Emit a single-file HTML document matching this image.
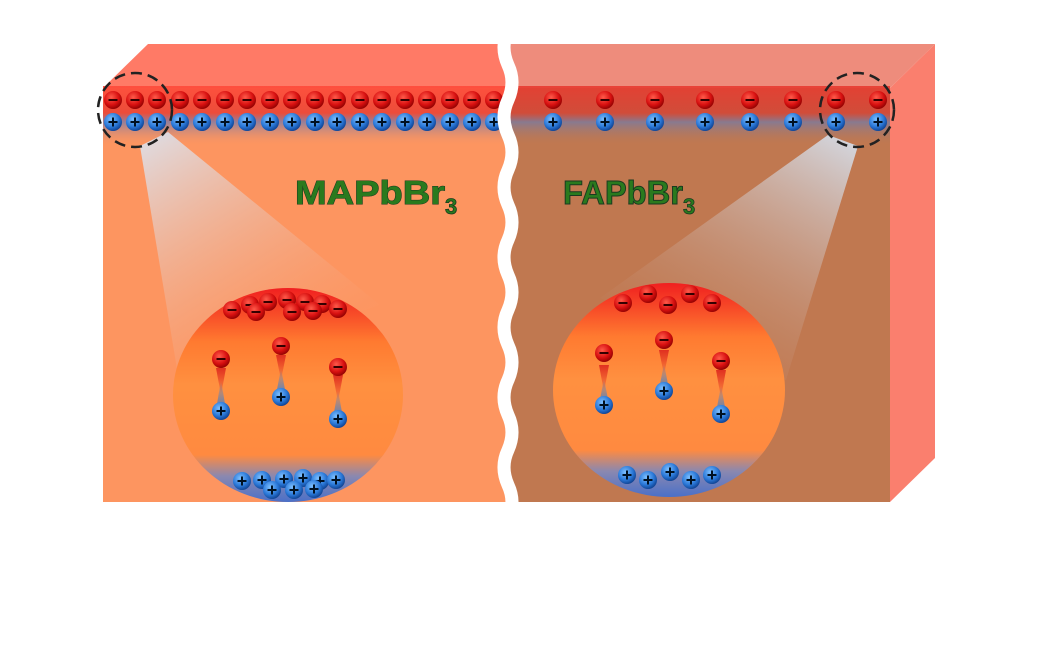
<!DOCTYPE html>
<html><head><meta charset="utf-8"><style>html,body{margin:0;padding:0;background:#fff}svg{display:block}</style></head>
<body>
<svg width="1050" height="650" viewBox="0 0 1050 650" xmlns="http://www.w3.org/2000/svg">
<defs>
<radialGradient id="neg" cx="0.4" cy="0.35" r="0.7"><stop offset="0" stop-color="#ff5a4a"/><stop offset="0.6" stop-color="#d81010"/><stop offset="1" stop-color="#8a0000"/></radialGradient>
<radialGradient id="pos" cx="0.4" cy="0.35" r="0.7"><stop offset="0" stop-color="#7ec0ff"/><stop offset="0.6" stop-color="#2a78d8"/><stop offset="1" stop-color="#0c3c8a"/></radialGradient>
<linearGradient id="bandL" x1="0" y1="0" x2="0" y2="1"><stop offset="0" stop-color="#ff4a3a" stop-opacity="0.9"/><stop offset="0.45" stop-color="#e83a30" stop-opacity="0.8"/><stop offset="0.6" stop-color="#7a7aa8" stop-opacity="0.8"/><stop offset="1" stop-color="#fd9560" stop-opacity="0"/></linearGradient>
<linearGradient id="bandR" x1="0" y1="0" x2="0" y2="1"><stop offset="0" stop-color="#e83a30" stop-opacity="0.9"/><stop offset="0.45" stop-color="#d83a30" stop-opacity="0.7"/><stop offset="0.6" stop-color="#7a7aa0" stop-opacity="0.8"/><stop offset="1" stop-color="#c07850" stop-opacity="0"/></linearGradient>
<linearGradient id="coneL" x1="0" y1="0" x2="0.6" y2="1"><stop offset="0" stop-color="#d8ecff"/><stop offset="1" stop-color="#fd9560" stop-opacity="0.2"/></linearGradient>
<linearGradient id="coneR" x1="1" y1="0" x2="0.4" y2="1"><stop offset="0" stop-color="#d8ecff"/><stop offset="1" stop-color="#c07850" stop-opacity="0.2"/></linearGradient>
<linearGradient id="circ" x1="0" y1="0" x2="0" y2="1"><stop offset="0" stop-color="#f02020"/><stop offset="0.25" stop-color="#ff7a30"/><stop offset="0.45" stop-color="#ff9040"/><stop offset="0.78" stop-color="#ff8a40"/><stop offset="0.88" stop-color="#8a88b0"/><stop offset="1" stop-color="#4a70c8"/></linearGradient>
<linearGradient id="tailN" x1="0" y1="0" x2="0" y2="1"><stop offset="0" stop-color="#e03020"/><stop offset="1" stop-color="#e03020" stop-opacity="0"/></linearGradient>
<linearGradient id="tailP" x1="0" y1="1" x2="0" y2="0"><stop offset="0" stop-color="#5080c0"/><stop offset="1" stop-color="#5080c0" stop-opacity="0"/></linearGradient>
<g id="n"><circle r="9" fill="url(#neg)"/><rect x="-4.5" y="-1" width="9" height="2" fill="#300"/></g>
<g id="p"><circle r="9" fill="url(#pos)"/><rect x="-4.5" y="-1" width="9" height="2" fill="#012"/><rect x="-1" y="-4.5" width="2" height="9" fill="#012"/></g>
</defs>
<!-- left block -->
<polygon points="148,44 508,44 508,88 103,88" fill="#ff7a66"/>
<rect x="103" y="88" width="405" height="414" fill="#fd9560"/>
<!-- right block -->
<polygon points="508,44 935,44 890,88 508,88" fill="#ee8c7c"/>
<rect x="508" y="88" width="382" height="414" fill="#c07850"/>
<polygon points="890,88 935,44 935,458 890,502" fill="#fa7f6e"/>
<!-- charge bands -->
<rect x="103" y="86" width="405" height="60" fill="url(#bandL)"/>
<rect x="508" y="86" width="382" height="60" fill="url(#bandR)"/>
<!-- cones -->
<polygon points="140,146 168,132 380,305 178,375" fill="url(#coneL)" opacity="0.85"/>
<polygon points="828,135 858,146 786,380 600,298" fill="url(#coneR)" opacity="0.85"/>
<!-- top rows -->
<g>
<use href="#n" x="113" y="100"/><use href="#n" x="135" y="100"/><use href="#n" x="157" y="100"/><use href="#n" x="180" y="100"/><use href="#n" x="202" y="100"/><use href="#n" x="225" y="100"/><use href="#n" x="247" y="100"/><use href="#n" x="270" y="100"/><use href="#n" x="292" y="100"/><use href="#n" x="315" y="100"/><use href="#n" x="337" y="100"/><use href="#n" x="360" y="100"/><use href="#n" x="382" y="100"/><use href="#n" x="405" y="100"/><use href="#n" x="427" y="100"/><use href="#n" x="450" y="100"/><use href="#n" x="472" y="100"/><use href="#n" x="494" y="100"/>
<use href="#p" x="113" y="122"/><use href="#p" x="135" y="122"/><use href="#p" x="157" y="122"/><use href="#p" x="180" y="122"/><use href="#p" x="202" y="122"/><use href="#p" x="225" y="122"/><use href="#p" x="247" y="122"/><use href="#p" x="270" y="122"/><use href="#p" x="292" y="122"/><use href="#p" x="315" y="122"/><use href="#p" x="337" y="122"/><use href="#p" x="360" y="122"/><use href="#p" x="382" y="122"/><use href="#p" x="405" y="122"/><use href="#p" x="427" y="122"/><use href="#p" x="450" y="122"/><use href="#p" x="472" y="122"/><use href="#p" x="494" y="122"/>
<use href="#n" x="553" y="100"/><use href="#n" x="605" y="100"/><use href="#n" x="655" y="100"/><use href="#n" x="705" y="100"/><use href="#n" x="750" y="100"/><use href="#n" x="793" y="100"/><use href="#n" x="836" y="100"/><use href="#n" x="878" y="100"/>
<use href="#p" x="553" y="122"/><use href="#p" x="605" y="122"/><use href="#p" x="655" y="122"/><use href="#p" x="705" y="122"/><use href="#p" x="750" y="122"/><use href="#p" x="793" y="122"/><use href="#p" x="836" y="122"/><use href="#p" x="878" y="122"/>
</g>
<!-- wavy gap -->
<path d="M508,30 q-8,17 0,35 q8,17 0,35 q-8,17 0,35 q8,17 0,35 q-8,17 0,35 q8,17 0,35 q-8,17 0,35 q8,17 0,35 q-8,17 0,35 q8,17 0,35 q-8,17 0,35 q8,17 0,35 q-8,17 0,35 q8,17 0,35 q-8,17 0,35" fill="none" stroke="#fff" stroke-width="13"/>
<!-- dashed circles -->
<circle cx="135" cy="110" r="37" fill="none" stroke="#222" stroke-width="2.5" stroke-dasharray="11,6"/>
<circle cx="857" cy="110" r="37" fill="none" stroke="#222" stroke-width="2.5" stroke-dasharray="11,6"/>
<!-- labels -->
<g font-family="Liberation Sans, sans-serif" font-weight="bold" fill="#2a7a1e">
<text x="295" y="204" font-size="33" textLength="150" lengthAdjust="spacingAndGlyphs" stroke="#1a3a20" stroke-width="1" style="paint-order:stroke">MAPbBr</text>
<text x="445" y="214" font-size="22" stroke="#1a3a20" stroke-width="0.8">3</text>
<text x="563" y="204" font-size="33" textLength="120" lengthAdjust="spacingAndGlyphs" stroke="#1a3a20" stroke-width="1">FAPbBr</text>
<text x="683" y="214" font-size="22" stroke="#1a3a20" stroke-width="0.8">3</text>
</g>
<!-- big circles -->
<ellipse cx="288" cy="395" rx="115" ry="107" fill="url(#circ)"/>
<ellipse cx="669" cy="390" rx="116" ry="107" fill="url(#circ)"/>
<!-- left circle contents -->
<g>
<use href="#n" x="232" y="310"/><use href="#n" x="250" y="305"/><use href="#n" x="268" y="302"/><use href="#n" x="287" y="300"/><use href="#n" x="305" y="302"/><use href="#n" x="322" y="304"/><use href="#n" x="338" y="309"/><use href="#n" x="256" y="312"/><use href="#n" x="292" y="312"/><use href="#n" x="313" y="311"/>
<polygon points="216,368 226,368 221,395" fill="url(#tailN)"/><polygon points="216,410 226,410 221,380" fill="url(#tailP)"/>
<polygon points="276,355 286,355 281,380" fill="url(#tailN)"/><polygon points="276,395 286,395 281,368" fill="url(#tailP)"/>
<polygon points="333,375 343,375 338,402" fill="url(#tailN)"/><polygon points="333,418 343,418 338,390" fill="url(#tailP)"/>
<use href="#n" x="221" y="359"/><use href="#n" x="281" y="346"/><use href="#n" x="338" y="367"/>
<use href="#p" x="221" y="411"/><use href="#p" x="281" y="397"/><use href="#p" x="338" y="419"/>
<use href="#p" x="242" y="481"/><use href="#p" x="262" y="480"/><use href="#p" x="284" y="479"/><use href="#p" x="303" y="478"/><use href="#p" x="320" y="481"/><use href="#p" x="336" y="480"/><use href="#p" x="272" y="490"/><use href="#p" x="294" y="490"/><use href="#p" x="314" y="489"/>
</g>
<!-- right circle contents -->
<g>
<use href="#n" x="623" y="303"/><use href="#n" x="648" y="294"/><use href="#n" x="668" y="305"/><use href="#n" x="690" y="294"/><use href="#n" x="712" y="303"/>
<polygon points="599,365 609,365 604,392" fill="url(#tailN)"/><polygon points="599,405 609,405 604,378" fill="url(#tailP)"/>
<polygon points="659,350 669,350 664,375" fill="url(#tailN)"/><polygon points="659,390 669,390 664,363" fill="url(#tailP)"/>
<polygon points="716,370 726,370 721,398" fill="url(#tailN)"/><polygon points="716,413 726,413 721,385" fill="url(#tailP)"/>
<use href="#n" x="604" y="353"/><use href="#n" x="664" y="340"/><use href="#n" x="721" y="361"/>
<use href="#p" x="604" y="405"/><use href="#p" x="664" y="391"/><use href="#p" x="721" y="414"/>
<use href="#p" x="627" y="475"/><use href="#p" x="648" y="480"/><use href="#p" x="670" y="472"/><use href="#p" x="691" y="480"/><use href="#p" x="712" y="475"/>
</g>
</svg>
</body></html>
